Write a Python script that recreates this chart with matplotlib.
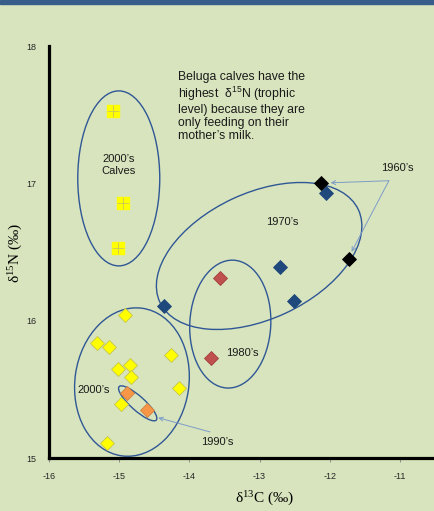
import matplotlib
matplotlib.use("Agg")
import matplotlib.pyplot as plt
from matplotlib.patches import Ellipse
from matplotlib.transforms import Affine2D

plt.rcParams["axes.unicode_minus"] = False

# valeurs (delta13C, delta15N)
calves_2000_c = [-15.09, -14.95, -15.01]
calves_2000_n = [17.53, 16.86, 16.53]

adults_2000_c = [-14.92, -15.32, -15.15, -14.26, -15.02, -14.85, -14.83, -14.15, -14.97, -15.18]
adults_2000_n = [16.04, 15.84, 15.81, 15.75, 15.65, 15.68, 15.59, 15.51, 15.39, 15.11]

b1990_c = [-14.89, -14.61]
b1990_n = [15.47, 15.35]

b1980_c = [-13.69, -13.56]
b1980_n = [15.73, 16.31]

b1970_c = [-14.36, -12.71, -12.51, -12.06]
b1970_n = [16.11, 16.39, 16.14, 16.93]

b1960_c = [-12.12, -11.72]
b1960_n = [17.00, 16.45]

x_ticks = [-16, -15, -14, -13, -12, -11]
y_ticks = [15, 16, 17, 18]

bg = "#d8e4bd"
oval_col = "#2f5796"
arrow_col = "#7d9cc9"

fig = plt.figure(figsize=(4.35, 5.11), dpi=100, facecolor=bg)
fig.patches.append(plt.Rectangle((0, 1 - 4 / 511), 1, 4 / 511, transform=fig.transFigure,
                                 color="#385d8a", zorder=0))
ax = fig.add_axes([49 / 435, 1 - 458 / 511, 1 - 49 / 435, 412 / 511])
ax.set_facecolor(bg)
ax.set_xlim(-16, -10.5)
ax.set_ylim(15, 18)

for s in ["top", "right"]:
    ax.spines[s].set_visible(False)
for s in ["left", "bottom"]:
    ax.spines[s].set_linewidth(2.3)
    ax.spines[s].set_color("black")

ax.set_xticks(x_ticks)
ax.set_yticks(y_ticks)
ax.tick_params(axis="x", length=3, width=0.6, color="#808080", pad=7,
               labelsize=6.5, labelcolor="#262626")
ax.tick_params(axis="y", length=0, pad=9, labelsize=6.5, labelcolor="#262626")
for lab in ax.get_xticklabels() + ax.get_yticklabels():
    lab.set_family("Liberation Sans")

ax.set_xlabel(r"$\mathregular{\delta^{13}}$C (‰)", family="Liberation Serif", fontsize=11)
ax.xaxis.set_label_coords((265 - 49) / 386, -0.077)
ax.set_ylabel(r"$\mathregular{\delta^{15}}$N (‰)", family="Liberation Serif", fontsize=11)
ax.yaxis.set_label_coords(-0.062, (458 - 253) / 412)

# points
kw = dict(linestyle="none", clip_on=False, zorder=3)
ax.plot(calves_2000_c, calves_2000_n, marker="s", ms=9.3, mfc="#ffff00", mec="#ffff00", **kw)
ax.plot(calves_2000_c, calves_2000_n, marker="+", ms=9.3, mew=0.6, color="#c9c95a", **kw)
ax.plot(adults_2000_c, adults_2000_n, marker="D", ms=7.6, mfc="#ffff00", mec="#c5c54a", mew=0.6, **kw)
ax.plot(b1990_c, b1990_n, marker="D", ms=7.6, mfc="#f79646", mec="#d08040", mew=0.6, **kw)
ax.plot(b1980_c, b1980_n, marker="D", ms=7.6, mfc="#c0504d", mec="#a04040", mew=0.6, **kw)
ax.plot(b1970_c, b1970_n, marker="D", ms=7.6, mfc="#1f497d", mec="#1f497d", mew=0.6, **kw)
ax.plot(b1960_c, b1960_n, marker="D", ms=7.4, mfc="black", mec="black", mew=0.6, **kw)

# ovales (taille en pixels)
px_x = 386 / 5.5
px_y = 412 / 3.0


def oval(cx, cy, w, h, angle=0):
    t = Affine2D().scale(1 / px_x, 1 / px_y).translate(cx, cy) + ax.transData
    ax.add_patch(Ellipse((0, 0), w, h, angle=angle, transform=t, fill=False,
                         edgecolor=oval_col, lw=1.0, zorder=2))


oval(-15.006, 17.036, 82, 175)
oval(-14.818, 15.553, 114, 149, -8)
oval(-14.736, 15.398, 50, 14, -42)
oval(-13.417, 15.975, 81, 128, -3)
oval(-13.006, 16.471, 219, 126, 25)

# textes
tk = dict(family="Liberation Sans", fontsize=8, color="#1a1a1a")
ax.text(-15.006, 17.133, "2000’s\nCalves", ha="center", va="center", linespacing=1.15, **tk)
ax.text(-12.68, 16.72, "1970’s", ha="center", va="center", **tk)
ax.text(-13.25, 15.764, "1980’s", ha="center", va="center", **tk)
ax.text(-15.36, 15.495, "2000’s", ha="center", va="center", **tk)
ax.text(-13.607, 15.118, "1990’s", ha="center", va="center", **tk)
ax.text(-11.03, 17.11, "1960’s", ha="center", va="center", **tk)
ax.text(-14.162, 17.818,
        "Beluga calves have the\nhighest  $\\mathregular{\\delta^{15}}$N (trophic\n"
        "level) because they are\nonly feeding on their\nmother’s milk.",
        ha="left", va="top", linespacing=1.12, family="Liberation Sans",
        fontsize=8.8, color="#1a1a1a")

ap = dict(arrowstyle="->", color=arrow_col, lw=0.7, shrinkA=0, shrinkB=0,
          mutation_scale=7)
ax.annotate("", xy=(-11.987, 17.004), xytext=(-11.157, 17.019), arrowprops=ap)
ax.annotate("", xy=(-11.688, 16.502), xytext=(-11.157, 17.019), arrowprops=ap)
ax.annotate("", xy=(-14.443, 15.293), xytext=(-13.707, 15.19), arrowprops=ap)

fig.savefig("out.png", dpi=100, facecolor=bg)
